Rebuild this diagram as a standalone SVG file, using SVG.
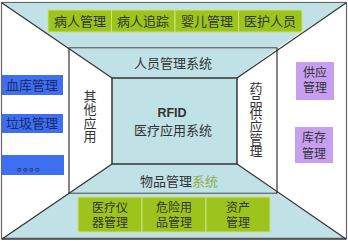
<svg xmlns="http://www.w3.org/2000/svg" width="348" height="241" viewBox="0 0 348 241">
<style>
.t{font-family:"Noto Sans CJK SC","Liberation Sans",sans-serif;font-size:13px;fill:#333;text-anchor:middle}
.s{font-size:12px}
.v{font-family:"Noto Sans CJK SC","Liberation Sans",sans-serif;font-size:13px;fill:#333;writing-mode:vertical-rl;text-anchor:start}
.lb{fill:#c0e1e6}
.ln{stroke:#333;stroke-width:1.2;fill:none}
.gb{fill:#9cc41c;stroke:#cde37e;stroke-width:1}
.bb{fill:#3d6ff0}
.bt{fill:#1c2b6a}
.pb{fill:#c79ff0}
</style>
<rect x="1.5" y="2.5" width="345" height="236.5" fill="#fff" stroke="#666" stroke-width="1.2"/>
<g id="frame">
<polygon class="lb" points="2,3 346,3 277,48 69,48"/>
<polygon class="lb" points="69,193 277,193 346,238.5 2,238.5"/>
<rect x="69" y="48" width="208" height="145" fill="#fff" class="ln"/>
<polygon class="lb" points="69.6,48.6 276.4,48.6 237,78 112,78"/>
<polygon class="lb" points="112,164 237,164 276.4,192.4 69.6,192.4"/>
<line x1="2" y1="238.8" x2="346" y2="238.8" stroke="#555" stroke-width="2"/>
</g>
<g id="connectors" class="ln">
<line x1="2" y1="3" x2="112" y2="78"/>
<line x1="346" y1="3" x2="237" y2="78"/>
<line x1="2" y1="239" x2="112" y2="164"/>
<line x1="346" y1="239" x2="237" y2="164"/>
</g>
<g id="core">
<rect x="112" y="78" width="125" height="86" class="lb" stroke="#333" stroke-width="1.5"/>
<text class="t" x="172" y="117" style="font-family:'Liberation Sans',sans-serif;font-weight:bold;font-size:12.5px">RFID</text>
<text class="t" x="173" y="135">医疗应用系统</text>
</g>
<g id="staff"><text class="t" x="173" y="68">人员管理系统</text></g>
<g id="goods"><text class="t" x="179" y="186">物品管理<tspan fill="#8fae4a">系统</tspan></text></g>
<g id="other"><text class="v" x="90" y="89.5" letter-spacing="0.3">其他应用</text></g>
<g id="drug"><text class="v" x="256" y="81.5" letter-spacing="-0.3">药品供应管理</text></g>
<g id="patient-mgmt"><rect class="gb" x="48" y="10" width="63.5" height="22"/><text class="t" x="80" y="26">病人管理</text></g>
<g id="patient-track"><rect class="gb" x="111.5" y="10" width="63.5" height="22"/><text class="t" x="143" y="26">病人追踪</text></g>
<g id="infant"><rect class="gb" x="175" y="10" width="63.5" height="22"/><text class="t" x="207" y="26">婴儿管理</text></g>
<g id="medstaff"><rect class="gb" x="238.5" y="10" width="63.5" height="22"/><text class="t" x="270" y="26">医护人员</text></g>
<g id="blood"><rect class="bb" x="2" y="75" width="61" height="20"/><text class="t bt" x="32" y="90">血库管理</text></g>
<g id="waste"><rect class="bb" x="2" y="114" width="61" height="19"/><text class="t bt" x="32" y="128">垃圾管理</text></g>
<g id="more"><rect class="bb" x="2" y="155" width="62" height="20"/><text class="t bt" x="32" y="171" style="font-size:12px">。。。。</text></g>
<g id="supply"><rect class="pb" x="296" y="62" width="38" height="38"/><text class="t s" x="315" y="76.5">供应</text><text class="t s" x="315" y="92">管理</text></g>
<g id="stock"><rect class="pb" x="295" y="127" width="38" height="36"/><text class="t s" x="314" y="142">库存</text><text class="t s" x="314" y="157.5">管理</text></g>
<g id="device"><rect class="gb" x="78" y="197" width="64" height="35"/><text class="t s" x="110" y="211.7">医疗仪</text><text class="t s" x="110" y="227.2">器管理</text></g>
<g id="hazard"><rect class="gb" x="142" y="197" width="64" height="35"/><text class="t s" x="174" y="211.7">危险用</text><text class="t s" x="174" y="227.2">品管理</text></g>
<g id="asset"><rect class="gb" x="206" y="197" width="64" height="35"/><text class="t s" x="238" y="211.7">资产</text><text class="t s" x="238" y="227.2">管理</text></g>
</svg>
